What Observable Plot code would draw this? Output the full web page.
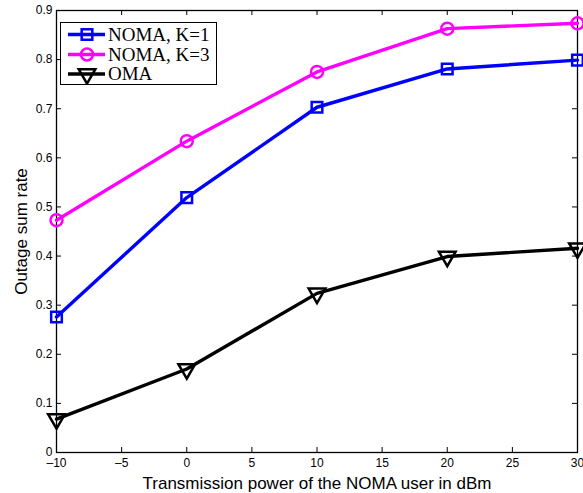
<!DOCTYPE html>
<html>
<head>
<meta charset="utf-8">
<script src="https://cdn.jsdelivr.net/npm/d3@7"></script>
<script src="https://cdn.jsdelivr.net/npm/@observablehq/plot@0.6"></script>
<style>
  html, body { margin: 0; padding: 0; background: #fff; }
  #wrap { position: relative; width: 583px; height: 493px; overflow: hidden; }
  #legend { position: absolute; left: 60px; top: 22px; width: 157px; height: 63px;
            border: 1px solid #000; background: #fff; box-sizing: border-box; }
  #legend svg { display: block; }
  #wrap g[aria-label="x-axis tick label"], #wrap g[aria-label="y-axis tick label"] { font-size: 12px; }
  #wrap g[aria-label="x-axis label"], #wrap g[aria-label="y-axis label"] { font-size: 17px; }
</style>
</head>
<body>
<div id="wrap"></div>
<script>
// ---- data ----
const power = [-10, 0, 10, 20, 30];
const nomaK1 = [0.276, 0.519, 0.703, 0.781, 0.799];
const nomaK3 = [0.473, 0.634, 0.775, 0.863, 0.874];
const oma = [0.068, 0.170, 0.324, 0.399, 0.416];
const seriesNames = ["NOMA, K=1", "NOMA, K=3", "OMA"];
const xTicks = [-10, -5, 0, 5, 10, 15, 20, 25, 30];
const yTicks = [0, 0.1, 0.2, 0.3, 0.4, 0.5, 0.6, 0.7, 0.8, 0.9];

// ---- styles ----
const colors = ["#0000ff", "#ff00ff", "#000000"];
const symbols = ["square", "circle", "triangle"];
const rotations = [0, 0, 180];

const W = 583, H = 493;
const mL = 56, mR = 6, mT = 10, mB = 41;
const innerW = W - mL - mR, innerH = H - mT - mB;

const seriesVals = [nomaK1, nomaK3, oma];
const rows = [];
seriesVals.forEach((vals, si) => vals.forEach((v, i) => rows.push({x: power[i], y: v, s: seriesNames[si], si})));

const marks = [];
seriesNames.forEach((name, si) => {
  const data = rows.filter(d => d.si === si);
  marks.push(Plot.line(data, {x: "x", y: "y", stroke: colors[si], strokeWidth: 3.4}));
  marks.push(Plot.dot(data, {x: "x", y: "y", symbol: symbols[si], r: si === 2 ? 6.2 : 6,
    rotate: rotations[si], stroke: colors[si], strokeWidth: 2.5, fill: "none"}));
});

const chart = Plot.plot({
  width: W, height: H,
  marginLeft: mL, marginRight: mR, marginTop: mT, marginBottom: mB,
  style: {fontFamily: "'Liberation Sans', Arial, Helvetica, sans-serif", background: "#fff", color: "#000"},
  x: {domain: [-10, 30]},
  y: {domain: [0, 0.9]},
  marks: [
    Plot.frame({stroke: "#000", strokeWidth: 1.3}),
    Plot.tickX(xTicks, {x: d => d, insetTop: innerH - 5, stroke: "#000"}),
    Plot.tickX(xTicks, {x: d => d, insetBottom: innerH - 5, stroke: "#000"}),
    Plot.tickY(yTicks, {y: d => d, insetRight: innerW - 5, stroke: "#000"}),
    Plot.tickY(yTicks, {y: d => d, insetLeft: innerW - 5, stroke: "#000"}),
    Plot.axisX(xTicks, {tickSize: 0, tickPadding: 6, fontSize: 12, label: null,
      tickFormat: d => (d < 0 ? "\u2013" + Math.abs(d) : String(d))}),
    Plot.axisY(yTicks, {tickSize: 0, tickPadding: 4, fontSize: 12, label: null,
      tickFormat: d => String(d)}),
    Plot.axisX([], {label: "Transmission power of the NOMA user in dBm", labelAnchor: "center",
      labelArrow: "none", labelOffset: 36, fontSize: 17, tickSize: 0}),
    Plot.axisY([], {label: "Outage sum rate", labelAnchor: "center", labelArrow: "none",
      labelOffset: 42, fontSize: 17, tickSize: 0}),
    ...marks
  ]
});
document.getElementById("wrap").appendChild(chart);

// ---- legend ----
const leg = document.createElement("div");
leg.id = "legend";
const ns = "http://www.w3.org/2000/svg";
const svg = document.createElementNS(ns, "svg");
svg.setAttribute("width", 155); svg.setAttribute("height", 61);
const rowY = [11.5, 31.5, 51];
seriesNames.forEach((name, si) => {
  const y = rowY[si];
  const line = document.createElementNS(ns, "line");
  line.setAttribute("x1", 7); line.setAttribute("x2", 44);
  line.setAttribute("y1", y); line.setAttribute("y2", y);
  line.setAttribute("stroke", colors[si]); line.setAttribute("stroke-width", 3.4);
  svg.appendChild(line);
  const sym = {square: d3.symbolSquare, circle: d3.symbolCircle, triangle: d3.symbolTriangle}[symbols[si]];
  const r = si === 2 ? 6.2 : 6;
  const p = document.createElementNS(ns, "path");
  p.setAttribute("d", d3.symbol(sym, Math.PI * r * r)());
  p.setAttribute("transform", `translate(26,${y}) rotate(${rotations[si]})`);
  p.setAttribute("fill", "none"); p.setAttribute("stroke", colors[si]); p.setAttribute("stroke-width", 2.5);
  svg.appendChild(p);
  const t = document.createElementNS(ns, "text");
  t.setAttribute("x", 47); t.setAttribute("y", y); t.setAttribute("dy", "0.33em");
  t.setAttribute("font-family", "'Liberation Serif', 'Times New Roman', serif");
  t.setAttribute("font-size", 19);
  t.textContent = name;
  svg.appendChild(t);
});
leg.appendChild(svg);
document.getElementById("wrap").appendChild(leg);
</script>
</body>
</html>
